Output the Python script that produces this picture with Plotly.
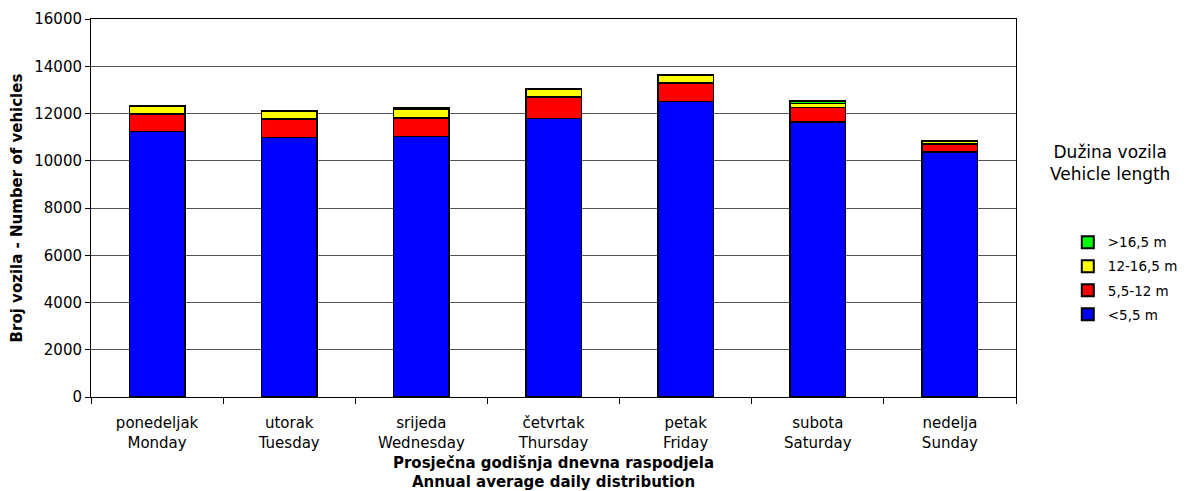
import plotly.graph_objects as go

days = ["ponedeljak<br>Monday", "utorak<br>Tuesday", "srijeda<br>Wednesday",
        "četvrtak<br>Thursday", "petak<br>Friday", "subota<br>Saturday", "nedelja<br>Sunday"]
lt55 = [11240, 10980, 11030, 11780, 12510, 11650, 10370]
b55_12 = [735, 790, 790, 915, 775, 600, 340]
b12_165 = [330, 330, 340, 345, 345, 170, 120]
gt165 = [25, 20, 80, 20, 20, 100, 35]

series = [("<5,5 m", lt55, "#0000FF"), ("5,5-12 m", b55_12, "#FF0000"),
          ("12-16,5 m", b12_165, "#FFFF00"), (">16,5 m", gt165, "#00FF00")]

font = "DejaVu Sans"
fig = go.Figure()
for i, (name, vals, col) in enumerate(series):
    fig.add_trace(go.Bar(x=days, y=vals, name=name, marker_color=col, legendgroup=f"g{i}",
                         legendrank=10 - i,
                         marker_line_color="black", marker_line_width=1.5))

fig.update_layout(
    barmode="stack", bargap=0.58,
    width=1190, height=491,
    margin=dict(l=83, r=182, t=11, b=102, autoexpand=False),
    plot_bgcolor="white", paper_bgcolor="white",
    font=dict(family=font, size=14, color="black"),
    legend=dict(x=1.056, y=0.45, xanchor="left", yanchor="top", traceorder="grouped",
                font=dict(size=13.5), itemsizing="constant", tracegroupgap=3.5),
    showlegend=True,
)
fig.update_xaxes(showline=True, linecolor="black", mirror=True, ticks="outside",
                 tickson="boundaries", ticklen=6, tickcolor="black", automargin=False,
                 tickfont=dict(size=15), ticklabelstandoff=12,
                 title=dict(text="<b>Prosječna godišnja dnevna raspodjela<br>Annual average daily distribution</b>",
                            font=dict(size=15), standoff=6))
fig.update_yaxes(range=[0, 16000], dtick=2000, tickformat="d", showline=True, linecolor="black", mirror=True,
                 ticks="outside", ticklen=5, tickcolor="black", automargin=False,
                 tickfont=dict(size=15),
                 gridcolor="#555555", gridwidth=1,
                 title=dict(text="<b>Broj vozila - Number of vehicles</b>", font=dict(size=15), standoff=14))
fig.add_annotation(x=1.102, y=0.62, xref="paper", yref="paper", showarrow=False,
                   xanchor="center", yanchor="middle",
                   text="Dužina vozila<br>Vehicle length", font=dict(size=17), align="center")
fig.write_html("out.html")
